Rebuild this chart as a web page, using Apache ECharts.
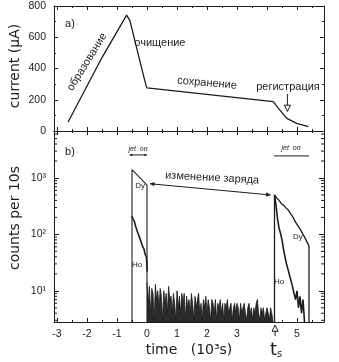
<!DOCTYPE html>
<html>
<head>
<meta charset="utf-8">
<script src="https://cdn.jsdelivr.net/npm/echarts@6/dist/echarts.min.js"></script>
<style>
  html, body { margin: 0; padding: 0; background: #fff; }
  #c { width: 339px; height: 362px; }
</style>
</head>
<body>
<div id="c"></div>
<script>
// Time is in units of 10^3 s.
// a) beam current during accumulation, cleaning, storage and detection
const currentTime  = [-2.63, -1.5, -0.68, -0.57, -0.12, -0.03, 0.0, 4.21, 4.43, 4.66, 4.99, 5.38];
const currentValue = [58, 470, 742, 706, 358, 290, 276, 188, 134, 81, 49, 28];

// b) counts per 10 s, first jet-on window (Dy outline and Ho trace)
const dyTime1   = [-0.5, -0.5, 0.0, 0.0];
const dyCounts1 = [2.8, 1400, 750, 2.8];
const hoTime1   = [-0.5, -0.46, -0.42, -0.38, -0.34, -0.3, -0.26, -0.22, -0.18, -0.14, -0.1, -0.06, -0.02, 0.01];
const hoCounts1 = [210, 185, 170, 140, 130, 105, 98, 80, 74, 60, 55, 44, 40, 22];

// background histogram between the two jet-on windows (40 s bins from t = 0)
const noiseStart = 0.0;
const noiseBin = 0.04;
const noiseCounts = [
  14, 6, 12, 4, 11, 9, 3, 13, 7, 10,
  5, 11, 8, 3, 10, 6, 9, 4, 12, 7,
  8, 4, 9, 6, 3, 10, 5, 8, 4, 9,
  6, 9, 3, 8, 5, 7, 4, 9, 6, 3,
  8, 5, 7, 9, 4, 6, 3, 7, 5, 8,
  4, 7, 5, 3, 7, 6, 4, 7, 3, 6,
  5, 7, 4, 6, 3, 6, 5, 7, 4, 5,
  6, 3, 5, 6, 4, 6, 5, 3, 6, 4,
  5, 6, 4, 3, 5, 6, 4, 5, 3, 5,
  4, 6, 7, 4, 3, 5, 4, 5, 3, 4,
  5, 4, 3, 5, 4
];

// second jet-on window, after the charge change
const hoTime2   = [4.25, 4.3, 4.35, 4.4, 4.45, 4.5, 4.55, 4.6, 4.65, 4.7, 4.75, 4.8, 4.85, 4.9, 4.95, 5.0, 5.05, 5.1, 5.15, 5.2, 5.25];
const hoCounts2 = [500, 330, 190, 130, 105, 80, 55, 40, 30, 24, 19, 15, 12, 9, 7, 10, 5, 8, 4, 7, 2.8];
const dyTime2   = [4.25, 4.25, 4.33, 4.4, 4.48, 4.55, 4.63, 4.71, 4.79, 4.87, 4.95, 5.04, 5.12, 5.2, 5.3, 5.4, 5.4];
const dyCounts2 = [2.8, 500, 440, 400, 350, 330, 295, 270, 230, 200, 165, 140, 120, 100, 80, 62, 2.8];

// axis ranges and tick values
const timeRange = [-3.1, 5.9];
const currentRange = [0, 800];
const countRange = [2.8, 6800];
const logMinorTicks = [3, 4, 5, 6, 7, 8, 9, 20, 30, 40, 50, 60, 70, 80, 90,
                       200, 300, 400, 500, 600, 700, 800, 900, 2000, 3000, 4000, 5000, 6000];
const tsTime = 4.27;

const INK = '#1c1c1c';
const SANS = '"Liberation Sans", Arial, sans-serif';
const WIDE = '"DejaVu Sans", sans-serif';
const SUP = { 1: '¹', 2: '²', 3: '³' };

const zip = (a, b) => a.map((v, i) => [v, b[i]]);
const noiseData = noiseCounts.map((v, i) => [noiseStart + i * noiseBin, v]);
noiseData.push([noiseStart + noiseCounts.length * noiseBin, countRange[0]]);

const chart = echarts.init(document.getElementById('c'), null, { renderer: 'canvas' });

function timeAxis(gridIndex, position, labels) {
  return {
    type: 'value', gridIndex, position,
    min: timeRange[0], max: timeRange[1], splitNumber: 9,
    axisLine: { show: true, onZero: false, lineStyle: { color: INK, width: 1 } },
    axisTick: { show: true, inside: true, length: 4, lineStyle: { color: INK, width: 1 } },
    minorTick: { show: true, splitNumber: 2, length: 2, lineStyle: { color: INK, width: 1 } },
    splitLine: { show: false },
    axisLabel: labels ? {
      show: true, margin: 7, color: INK, fontFamily: SANS, fontSize: 10.5,
      showMinLabel: false, showMaxLabel: false,
      formatter: v => (Math.abs(v - Math.round(v)) < 1e-6 && Math.round(v) !== 4) ? String(Math.round(v)) : ''
    } : { show: false }
  };
}

function currentAxis(position, labels) {
  return {
    type: 'value', gridIndex: 0, position,
    min: currentRange[0], max: currentRange[1], interval: 200,
    axisLine: { show: true, onZero: false, lineStyle: { color: INK, width: 1 } },
    axisTick: { show: true, inside: true, length: 4, lineStyle: { color: INK } },
    minorTick: { show: true, splitNumber: 2, length: 2, lineStyle: { color: INK } },
    splitLine: { show: false },
    axisLabel: labels ? { show: true, margin: 8, color: INK, fontFamily: SANS, fontSize: 10.5 } : { show: false }
  };
}

function countAxis(position, labels) {
  return {
    type: 'log', logBase: 10, gridIndex: 1, position,
    min: countRange[0], max: countRange[1],
    axisLine: { show: true, onZero: false, lineStyle: { color: INK, width: 1 } },
    axisTick: { show: true, inside: true, length: 5, lineStyle: { color: INK } },
    splitLine: { show: false },
    axisLabel: labels ? {
      show: true, margin: 8, color: INK, fontFamily: SANS, fontSize: 10.5,
      showMinLabel: false, showMaxLabel: false,
      formatter: v => {
        const e = Math.log10(v);
        return Math.abs(e - Math.round(e)) < 1e-6 && SUP[Math.round(e)] ? '10' + SUP[Math.round(e)] : '';
      }
    } : { show: false }
  };
}

const lineBase = { type: 'line', showSymbol: false, symbol: 'none', animation: false,
                   lineStyle: { color: INK, width: 1.1 } };

chart.setOption({
  animation: false,
  backgroundColor: '#fff',
  grid: [
    { left: 54, top: 6, width: 270, height: 125 },
    { left: 54, top: 131, width: 270, height: 191 }
  ],
  xAxis: [
    timeAxis(0, 'bottom', false),
    timeAxis(0, 'top', false),
    timeAxis(1, 'bottom', true),
    timeAxis(1, 'top', false)
  ],
  yAxis: [
    currentAxis('left', true),
    currentAxis('right', false),
    countAxis('left', true),
    countAxis('right', false)
  ],
  series: [
    Object.assign({}, lineBase, { name: 'current', xAxisIndex: 0, yAxisIndex: 0,
      data: zip(currentTime, currentValue), lineStyle: { color: INK, width: 1.3 } }),
    Object.assign({}, lineBase, { name: 'Dy 1', xAxisIndex: 2, yAxisIndex: 2, data: zip(dyTime1, dyCounts1) }),
    Object.assign({}, lineBase, { name: 'Ho 1', xAxisIndex: 2, yAxisIndex: 2, data: zip(hoTime1, hoCounts1),
      lineStyle: { color: INK, width: 1.6 } }),
    Object.assign({}, lineBase, { name: 'background', xAxisIndex: 2, yAxisIndex: 2, data: noiseData,
      step: 'end', lineStyle: { color: INK, width: 0.8 },
      areaStyle: { color: '#2b2b2b', opacity: 1, origin: 'start' } }),
    Object.assign({}, lineBase, { name: 'Ho 2', xAxisIndex: 2, yAxisIndex: 2, data: zip(hoTime2, hoCounts2),
      lineStyle: { color: INK, width: 1.6 } }),
    Object.assign({}, lineBase, { name: 'Dy 2', xAxisIndex: 2, yAxisIndex: 2, data: zip(dyTime2, dyCounts2),
      lineStyle: { color: INK, width: 1.3 } }),
    {
      type: 'custom', name: 'log minor ticks', xAxisIndex: 2, yAxisIndex: 2, silent: true,
      clip: false, animation: false,
      data: logMinorTicks.map(v => [timeRange[0], v]),
      encode: { x: 0, y: 1 },
      renderItem: (params, api) => {
        const v = api.value(1);
        const l = api.coord([timeRange[0], v]);
        const r = api.coord([timeRange[1], v]);
        const st = { stroke: INK, lineWidth: 1 };
        return { type: 'group', children: [
          { type: 'line', shape: { x1: l[0], y1: l[1], x2: l[0] + 3, y2: l[1] }, style: st },
          { type: 'line', shape: { x1: r[0], y1: r[1], x2: r[0] - 3, y2: r[1] }, style: st }
        ] };
      }
    }
  ]
});

// ---- annotations placed in data coordinates ----
const topPx = (t, v) => chart.convertToPixel({ seriesIndex: 0 }, [t, v]);
const botPx = (t, v) => chart.convertToPixel({ seriesIndex: 1 }, [t, v]);

function text(p, str, opts) {
  opts = opts || {};
  return {
    type: 'text', x: p[0], y: p[1], rotation: opts.rot || 0, z: 100,
    style: {
      text: str, fill: INK,
      font: (opts.style || '') + ' ' + (opts.size || 11) + 'px ' + (opts.family || SANS),
      align: 'center', verticalAlign: 'middle',
      textAlign: 'center', textVerticalAlign: 'middle',
      rich: opts.rich
    }
  };
}

function head(tip, from, size, hollow) {
  const a = Math.atan2(tip[1] - from[1], tip[0] - from[0]);
  const s = size || 4, w = 0.45;
  return {
    type: 'polygon', z: 100,
    shape: { points: [tip,
      [tip[0] - s * Math.cos(a - w), tip[1] - s * Math.sin(a - w)],
      [tip[0] - s * Math.cos(a + w), tip[1] - s * Math.sin(a + w)]] },
    style: hollow ? { fill: '#fff', stroke: INK, lineWidth: 1 } : { fill: INK }
  };
}

function seg(a, b, w) {
  return { type: 'line', z: 100, shape: { x1: a[0], y1: a[1], x2: b[0], y2: b[1] },
           style: { stroke: INK, lineWidth: w || 1 } };
}

function doubleArrow(a, b, size) {
  return [seg(a, b), head(a, b, size), head(b, a, size)];
}

const g = [];
// panel a)
g.push(text(topPx(-2.57, 685), 'a)', { size: 11 }));
g.push(text(topPx(-2.0, 442), 'образование', { rot: 58 * Math.PI / 180 }));
g.push(text(topPx(0.43, 563), 'очищение'));
g.push(text(topPx(2.0, 307), 'сохранение', { rot: -5 * Math.PI / 180 }));
g.push(text(topPx(4.7, 282), 'регистрация'));
{
  const a = topPx(4.68, 237), b = topPx(4.68, 125);
  g.push(seg(a, [b[0], b[1] - 6]));
  g.push(head(b, a, 7, true));
}

// panel b)
g.push(text(botPx(-2.57, 2890), 'b)', { size: 11 }));
g.push(text(botPx(-0.3, 3300), 'jet  on', { size: 7, style: 'italic' }));
g.push(...doubleArrow(botPx(-0.58, 2560), botPx(0.0, 2560), 3));
g.push(text(botPx(4.8, 3400), 'jet  on', { size: 7, style: 'italic' }));
g.push(seg(botPx(4.23, 2460), botPx(5.4, 2460)));
g.push(text(botPx(2.17, 1000), 'изменение заряда', { rot: -3 * Math.PI / 180 }));
g.push(...doubleArrow(botPx(0.1, 790), botPx(4.12, 500), 5));
g.push(text(botPx(-0.23, 720), 'Dy', { size: 8 }));
g.push(text(botPx(5.03, 90), 'Dy', { size: 8 }));
g.push(text(botPx(-0.33, 29), 'Ho', { size: 8 }));
g.push(text(botPx(4.4, 14.5), 'Ho', { size: 8 }));

// t_s marker below the time axis
{
  const base = botPx(tsTime, countRange[0]);
  const tip = [base[0], base[1] + 3];
  const stemEnd = [base[0], base[1] + 14];
  g.push(seg([tip[0], tip[1] + 6], stemEnd));
  g.push(head(tip, stemEnd, 7, true));
  g.push({
    type: 'text', x: base[0] + 1, y: base[1] + 28, z: 100,
    style: {
      text: '{t|t}{s|s}', fill: INK, align: 'center', verticalAlign: 'middle',
      textAlign: 'center', textVerticalAlign: 'middle',
      rich: {
        t: { fontFamily: WIDE, fontSize: 18, fill: INK, color: INK },
        s: { fontFamily: WIDE, fontSize: 10, fill: INK, color: INK, padding: [8, 0, 0, 0] }
      }
    }
  });
}

// axis titles
g.push(text([15, 66], 'current (μA)', { rot: Math.PI / 2, size: 14, family: WIDE }));
g.push(text([15, 218], 'counts per 10s', { rot: Math.PI / 2, size: 14, family: WIDE }));
g.push(text([189, 350], 'time   (10³s)', { size: 14, family: WIDE }));

chart.setOption({ graphic: g });
</script>
</body>
</html>
